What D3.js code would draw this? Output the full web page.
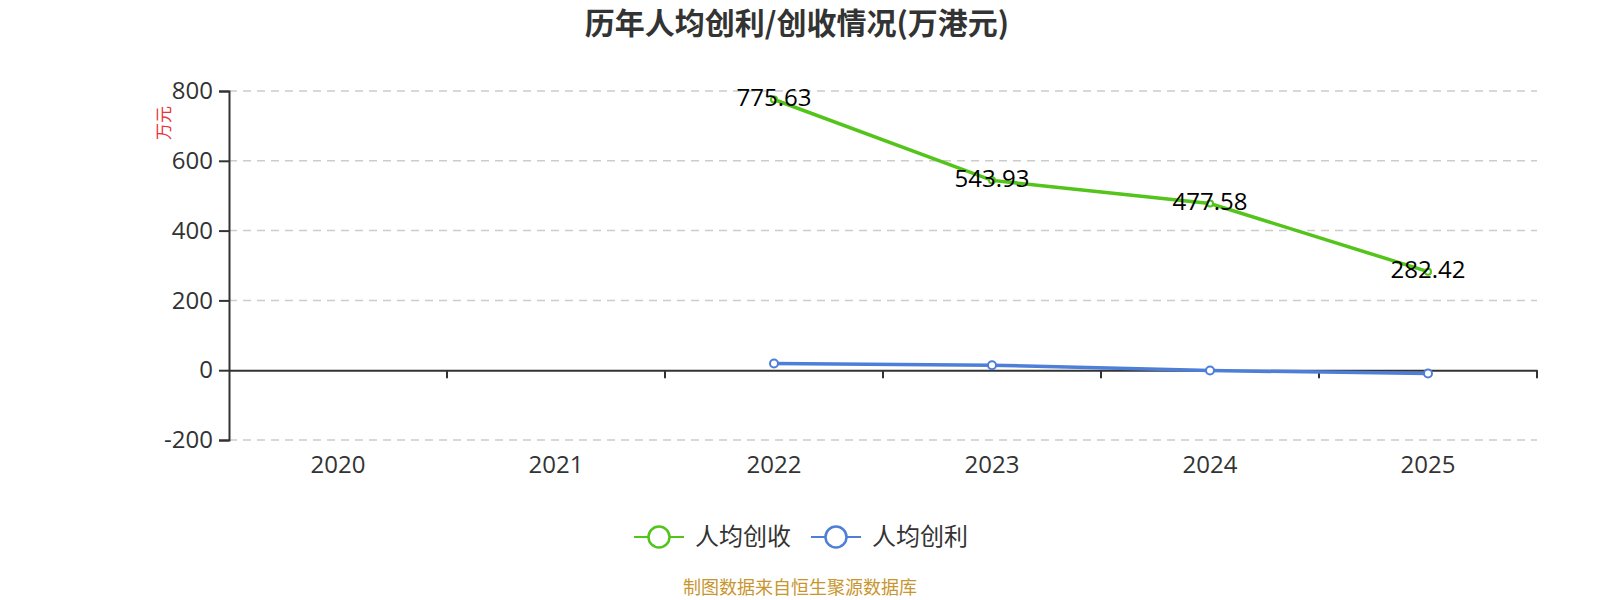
<!DOCTYPE html>
<html><head><meta charset="utf-8">
<script src="https://cdn.jsdelivr.net/npm/d3@7/dist/d3.min.js"></script>
<style>body{margin:0;background:#fff;}svg{display:block;font-family:"Noto Sans CJK SC","Noto Sans",sans-serif;}</style>
</head><body><svg id="c" width="1600" height="600"></svg>
<script>
const years = ["2020","2021","2022","2023","2024","2025"];
const revenuePerCapita = [null,null,775.63,543.93,477.58,282.42];
const profitPerCapita = [null,null,19.2,14.3,-1.0,-9.5];
const yTicks = [-200,0,200,400,600,800];
const seriesNames = ["人均创收","人均创利"];
const colors = ["#52c41a","#4d7fd8"];
const NUMFONT = "'Open Sans','Noto Sans CJK SC',sans-serif";

const svg = d3.select("#c");
const x = d3.scaleBand().domain(years).range([229,1537]);
const y = d3.scaleLinear().domain([-200,800]).range([440,91]);

// title
svg.append("text").attr("x",797).attr("y",34).attr("text-anchor","middle")
  .attr("font-size",30).attr("font-weight","bold").attr("fill","#333").text("历年人均创利/创收情况(万港元)");

// grid
svg.append("g").selectAll("line").data(yTicks.filter(d=>d!==0)).join("line")
  .attr("x1",229).attr("x2",1537).attr("y1",d=>y(d)).attr("y2",d=>y(d))
  .attr("stroke","#ccc").attr("stroke-width",1.5).attr("stroke-dasharray","8,6");

// y axis
const ya = svg.append("g").attr("transform","translate(229,0)")
  .call(d3.axisLeft(y).tickValues(yTicks).tickSize(10).tickPadding(6).tickFormat(d=>String(d)));
ya.attr("font-family",NUMFONT);
ya.select(".domain").attr("stroke","#333").attr("stroke-width",2);
ya.selectAll(".tick line").attr("stroke","#333").attr("stroke-width",2);
ya.selectAll(".tick text").attr("font-size",24).attr("fill","#333");

// x axis at zero
const xa = svg.append("g").attr("transform",`translate(0,${y(0)})`)
  .call(d3.axisBottom(x).tickSize(0).tickPadding(0));
xa.attr("font-family",NUMFONT);
xa.select(".domain").attr("stroke","#333").attr("stroke-width",2);
xa.selectAll(".tick text").attr("font-size",24).attr("fill","#333").attr("transform",`translate(0,${465-y(0)})`).attr("dy","0.35em");
// boundary ticks
svg.append("g").selectAll("line").data(years.slice(1).concat(["end"])).join("line")
  .attr("x1",(d,i)=>x.range()[0]+x.step()*(i+1)).attr("x2",(d,i)=>x.range()[0]+x.step()*(i+1))
  .attr("y1",y(0)).attr("y2",y(0)+8).attr("stroke","#333").attr("stroke-width",2);

// y axis name
svg.append("text").attr("transform","translate(164,123) rotate(-90)").attr("text-anchor","middle")
  .attr("dy","0.35em").attr("font-size",17).attr("fill","#e8323c").text("万元");

function drawSeries(vals,color,r,labels){
  const pts = years.map((d,i)=>({x:d,v:vals[i]})).filter(p=>p.v!==null);
  const line = d3.line().x(p=>x(p.x)+x.bandwidth()/2).y(p=>y(p.v));
  svg.append("path").datum(pts).attr("d",line).attr("fill","none").attr("stroke",color).attr("stroke-width",3.5);
  svg.append("g").selectAll("circle").data(pts).join("circle")
    .attr("cx",p=>x(p.x)+x.bandwidth()/2).attr("cy",p=>y(p.v)).attr("r",r)
    .attr("fill","#fff").attr("stroke",color).attr("stroke-width",2);
  if(labels){
    svg.append("g").selectAll("text").data(pts).join("text")
      .attr("x",p=>x(p.x)+x.bandwidth()/2).attr("y",p=>y(p.v)-2).attr("dy","0.35em")
      .attr("text-anchor","middle").attr("font-family",NUMFONT).attr("font-size",24).attr("fill","#000").text(p=>p.v.toFixed(2));
  }
}
drawSeries(revenuePerCapita,colors[0],3,true);
drawSeries(profitPerCapita,colors[1],4,false);

// legend
const legX = [634,811];
seriesNames.forEach((n,i)=>{
  const g = svg.append("g").attr("transform",`translate(${legX[i]},537)`);
  g.append("line").attr("x1",0).attr("x2",50).attr("stroke",colors[i]).attr("stroke-width",2);
  g.append("circle").attr("cx",25).attr("r",10.5).attr("fill","#fff").attr("stroke",colors[i]).attr("stroke-width",2.5);
  g.append("text").attr("x",61).attr("dy","0.35em").attr("font-size",24).attr("fill","#333").text(n);
});

// footer
svg.append("text").attr("x",800).attr("y",588).attr("dy","0.35em").attr("text-anchor","middle")
  .attr("font-size",18).attr("fill","#c8962e").text("制图数据来自恒生聚源数据库");
</script></body></html>
